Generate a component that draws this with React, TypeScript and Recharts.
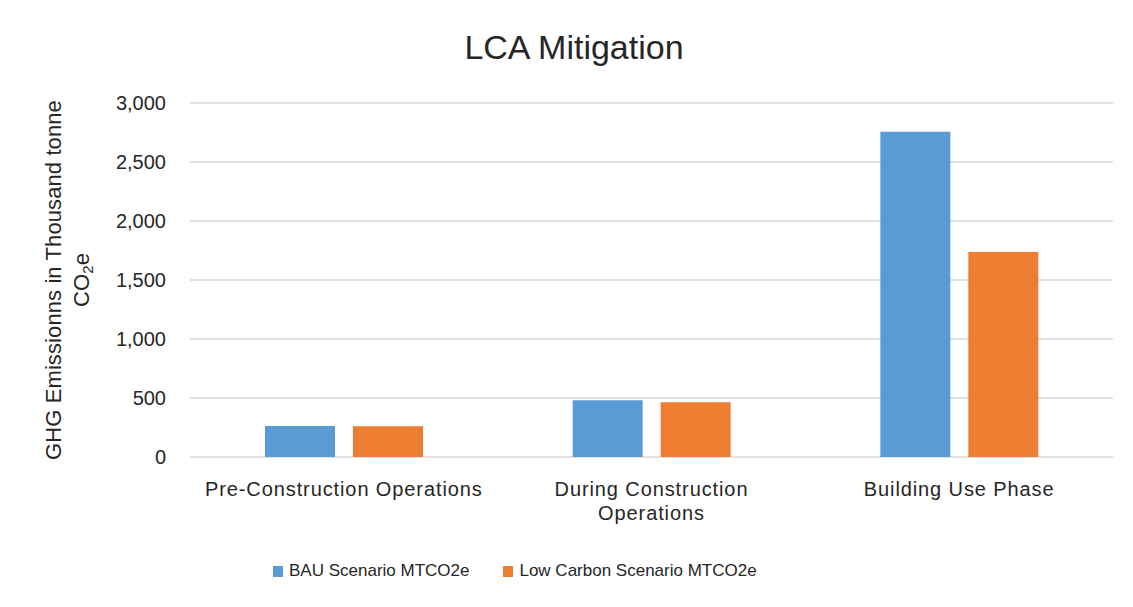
import { BarChart, Bar, XAxis, YAxis, CartesianGrid, Legend, Label } from "recharts";

const categories = ["Pre-Construction Operations", "During Construction Operations", "Building Use Phase"];
const bauValues = [262, 481, 2756];
const lowCarbonValues = [260, 464, 1738];
const yTicks = [0, 500, 1000, 1500, 2000, 2500, 3000];
const seriesNames = ["BAU Scenario MTCO2e", "Low Carbon Scenario MTCO2e"];
const seriesColors = ["#5B9BD5", "#ED7D31"];

const data = categories.map((name, i) => ({
  name,
  bau: bauValues[i],
  low: lowCarbonValues[i],
}));

const FONT = '"Liberation Sans", Arial, sans-serif';
const TEXT_COLOR = "#262626";
const TICK_SPACING = 0.9;

let ctx: CanvasRenderingContext2D | null = null;
function measure(s: string) {
  if (!ctx) ctx = document.createElement("canvas").getContext("2d");
  if (!ctx) return s.length * 10;
  ctx.font = `20px ${FONT}`;
  return ctx.measureText(s).width + s.length * TICK_SPACING;
}

// simple word wrap so long category names go on two lines like excel does
function wrap(label: string, maxWidth: number) {
  const lines: string[] = [];
  let cur = "";
  for (const w of label.split(" ")) {
    const next = cur ? cur + " " + w : w;
    if (cur && measure(next) > maxWidth) {
      lines.push(cur);
      cur = w;
    } else {
      cur = next;
    }
  }
  if (cur) lines.push(cur);
  return lines;
}

function CategoryTick(props: any) {
  const { x, y, payload } = props;
  const lines = wrap(String(payload.value), 290);
  return (
    <text
      x={x}
      y={y}
      textAnchor="middle"
      fontSize={20}
      fill={TEXT_COLOR}
      style={{ letterSpacing: TICK_SPACING, fontFamily: FONT }}
    >
      {lines.map((l, i) => (
        <tspan key={i} x={x} dy={i === 0 ? 14 : 24}>
          {l}
        </tspan>
      ))}
    </text>
  );
}

// two line axis title, second line has a subscript
function YTitle(props: any) {
  const { viewBox } = props;
  const cy = viewBox.y + viewBox.height / 2;
  const x1 = viewBox.x + 1;
  const x2 = x1 + 28;
  return (
    <g fill={TEXT_COLOR} fontSize={22} style={{ fontFamily: FONT, letterSpacing: 0.1 }}>
      <text x={x1} y={cy} textAnchor="middle" transform={`rotate(-90, ${x1}, ${cy})`}>
        GHG Emissionns in Thousand tonne
      </text>
      <text x={x2} y={cy} textAnchor="middle" transform={`rotate(-90, ${x2}, ${cy})`}>
        <tspan>CO</tspan>
        <tspan dy={4} fontSize={15}>2</tspan>
        <tspan dy={-4}>e</tspan>
      </text>
    </g>
  );
}

function LegendBox() {
  return (
    <div style={{ display: "flex", alignItems: "center", fontFamily: FONT, fontSize: 17, lineHeight: "20px", color: TEXT_COLOR }}>
      {seriesNames.map((s, i) => (
        <div key={s} style={{ display: "flex", alignItems: "center", marginRight: 34 }}>
          <span style={{ width: 10, height: 11, background: seriesColors[i], marginRight: 6 }} />
          <span>{s}</span>
        </div>
      ))}
    </div>
  );
}

export default function App() {
  return (
    <div style={{ position: "relative", width: 1133, height: 607, margin: -8, background: "#fff", overflow: "hidden" }}>
      <div
        style={{
          position: "absolute",
          left: 6,
          top: 4,
          width: 1140,
          height: 620,
          borderLeft: "2px solid #d9d9d9",
          borderTop: "2px solid #d9d9d9",
        }}
      />
      <div
        style={{
          position: "absolute",
          left: 0,
          top: 30,
          width: 1148,
          textAlign: "center",
          fontFamily: FONT,
          fontSize: 34,
          lineHeight: "34px",
          color: TEXT_COLOR,
        }}
      >
        LCA Mitigation
      </div>
      <BarChart
        width={1133}
        height={607}
        data={data}
        margin={{ top: 103, right: 20, left: 60, bottom: 60 }}
        barSize={70}
        barGap={18}
        style={{ position: "absolute", left: 0, top: 0 }}
      >
        <CartesianGrid vertical={false} stroke="#d9d9d9" strokeWidth={1.5} />
        <XAxis
          dataKey="name"
          axisLine={false}
          tickLine={false}
          tickSize={0}
          tickMargin={25}
          height={70}
          interval={0}
          tick={<CategoryTick />}
        />
        <YAxis
          width={130}
          domain={[0, 3000]}
          ticks={yTicks}
          axisLine={false}
          tickLine={false}
          tickSize={0}
          tickMargin={24}
          tickFormatter={(v: number) => v.toLocaleString("en-US")}
          tick={{ fontSize: 20, fill: TEXT_COLOR, fontFamily: FONT }}
        >
          <Label content={<YTitle />} />
        </YAxis>
        <Legend
          content={<LegendBox />}
          wrapperStyle={{ left: 273, top: 561, width: 700 }}
        />
        <Bar dataKey="bau" name={seriesNames[0]} fill={seriesColors[0]} isAnimationActive={false} />
        <Bar dataKey="low" name={seriesNames[1]} fill={seriesColors[1]} isAnimationActive={false} />
      </BarChart>
    </div>
  );
}
